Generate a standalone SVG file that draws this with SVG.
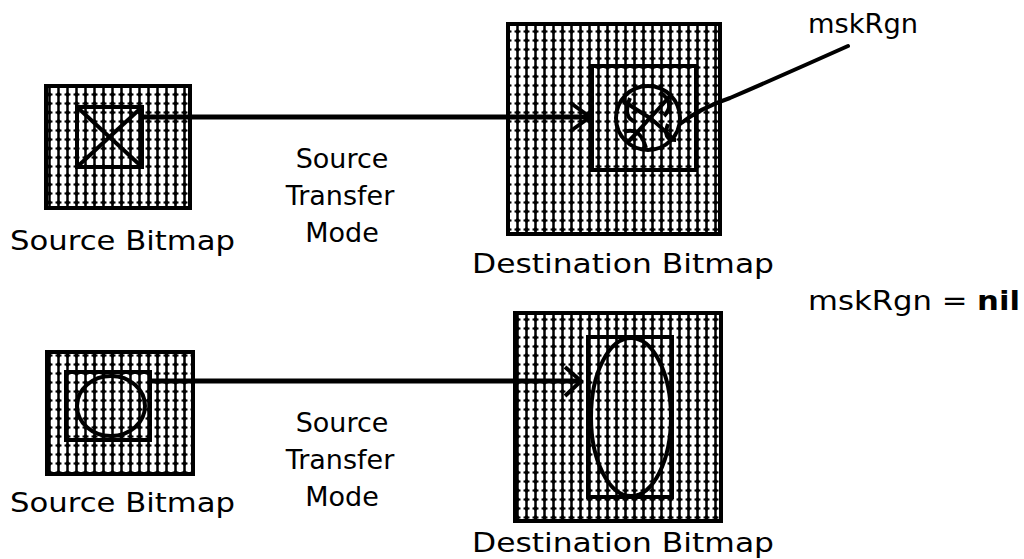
<svg xmlns="http://www.w3.org/2000/svg" width="1024" height="559" viewBox="0 0 1024 559">
<style>
.t{font-family:"DejaVu Sans","Liberation Sans",sans-serif;font-size:27px;fill:#000}
.box{fill:url(#pat);stroke:#000;stroke-width:4}
.inner{fill:none;stroke:#000;stroke-width:4}
.shape{fill:none;stroke:#000;stroke-width:4}
.arrow{fill:none;stroke:#000;stroke-width:5}
.head{fill:none;stroke:#000;stroke-width:4;stroke-linejoin:miter}
</style>
<defs>
<pattern id="pat" x="0" y="0" width="9" height="9" patternUnits="userSpaceOnUse">
<rect width="9" height="9" fill="#fff"/>
<rect x="3.25" y="0" width="2.5" height="9" fill="#000"/>
<rect x="1.5" y="3.5" width="6" height="2" fill="#000"/>
<polygon points="4.5,1.5 7,4.5 4.5,7.5 2,4.5" fill="#000"/>
</pattern>
</defs>
<g id="src1">
<rect class="box" x="46" y="86" width="144" height="122"/>
<rect class="inner" x="77" y="107" width="65" height="60"/>
<line class="shape" x1="77" y1="107" x2="142" y2="167"/>
<line class="shape" x1="142" y1="107" x2="77" y2="167"/>
<text class="t" x="10" y="250" textLength="225" lengthAdjust="spacingAndGlyphs">Source Bitmap</text>
</g>
<g id="mode1">
<text class="t" x="342" y="168" text-anchor="middle">Source</text>
<text class="t" x="340" y="205" text-anchor="middle">Transfer</text>
<text class="t" x="342" y="242" text-anchor="middle">Mode</text>
</g>
<g id="dst1">
<rect class="box" x="508" y="24" width="212" height="210"/>
<rect class="inner" x="592" y="66" width="104" height="104"/>
<circle class="shape" cx="648" cy="118" r="32"/>
<path class="shape" d="M622,100 Q640,112 650,118 Q660,126 672,138"/>
<path class="shape" d="M670,96 Q656,112 648,120 Q638,132 628,142"/>
<path class="shape" stroke-width="3" d="M630,98 Q622,118 636,122 M660,92 Q676,104 664,116 M624,132 Q640,126 646,148 M668,124 Q662,140 676,140"/>
<text class="t" x="472" y="273" textLength="302" lengthAdjust="spacingAndGlyphs">Destination Bitmap</text>
</g>
<g id="msk1">
<text class="t" x="808" y="33" textLength="110" lengthAdjust="spacingAndGlyphs">mskRgn</text>
</g>
<g id="src2">
<rect class="box" x="47" y="352" width="146" height="122"/>
<rect class="inner" x="66" y="372" width="84" height="68"/>
<ellipse class="shape" cx="111" cy="406" rx="34" ry="30"/>
<text class="t" x="10" y="512" textLength="225" lengthAdjust="spacingAndGlyphs">Source Bitmap</text>
</g>
<g id="mode2">
<text class="t" x="342" y="432" text-anchor="middle">Source</text>
<text class="t" x="340" y="469" text-anchor="middle">Transfer</text>
<text class="t" x="342" y="506" text-anchor="middle">Mode</text>
</g>
<g id="dst2">
<rect class="box" x="515" y="313" width="206" height="208"/>
<rect class="inner" x="588" y="337" width="84" height="160"/>
<ellipse class="shape" cx="631" cy="417" rx="40" ry="79"/>
<text class="t" x="472" y="552" textLength="302" lengthAdjust="spacingAndGlyphs">Destination Bitmap</text>
</g>
<g id="msk2">
<text class="t" x="808" y="310" textLength="212" lengthAdjust="spacingAndGlyphs">mskRgn = <tspan font-weight="bold">nil</tspan></text>
</g>
<g id="connectors">
<line class="arrow" x1="142" y1="117" x2="590" y2="117"/>
<polyline class="head" points="572,104 590,117 572,130"/>
<line class="arrow" x1="150" y1="381" x2="580" y2="381"/>
<polyline class="head" points="565,367 581,381 565,396"/>
<path d="M680,124 Q700,108 730,98 Q790,72 848,46" fill="none" stroke="#000" stroke-width="4" stroke-linecap="round"/>
</g>
</svg>
